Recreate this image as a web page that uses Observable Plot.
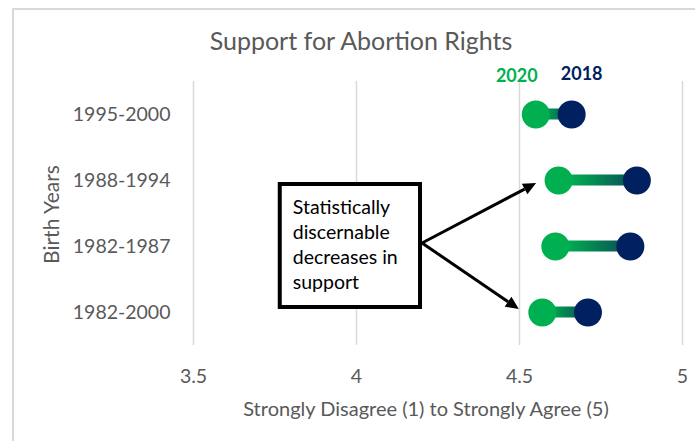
<!DOCTYPE html>
<html>
<head>
<meta charset="utf-8">
<script src="https://cdn.jsdelivr.net/npm/d3@7"></script>
<script src="https://cdn.jsdelivr.net/npm/@observablehq/plot@0.6"></script>
<style>
  body { margin: 0; background: #fff; }
  #chart { width: 695px; height: 441px; }
</style>
</head>
<body>
<div id="chart"></div>
<script>
// Mean support score by birth cohort, 2020 vs 2018 survey waves
const cohorts = ["1995-2000", "1988-1994", "1982-1987", "1982-2000"];
const support2020 = [4.55, 4.62, 4.61, 4.57];
const support2018 = [4.66, 4.86, 4.84, 4.71];
const xTicks = [3.5, 4, 4.5, 5];
const waveLabels = ["2020", "2018"];
const calloutLines = ["Statistically", "discernable", "decreases in", "support"];
const significantCohorts = ["1988-1994", "1982-2000"];

const GREEN = "#00B050";
const NAVY = "#002060";
const FONT = "Lato, Carlito, 'Open Sans', sans-serif";

const rows = cohorts.map((c, i) => ({cohort: c, v2020: support2020[i], v2018: support2018[i]}));
const legend = [
  {label: waveLabels[0], x: support2020[0], color: GREEN},
  {label: waveLabels[1], x: support2018[0], color: NAVY}
];

const plot = Plot.plot({
  width: 695,
  height: 441,
  marginLeft: 193,
  marginRight: 13,
  marginTop: 81,
  marginBottom: 96,
  style: {fontFamily: FONT, fontSize: "19.5px", color: "#595959", background: "#fff"},
  x: {domain: [3.5, 5], ticks: xTicks, tickFormat: d => String(d)},
  y: {domain: cohorts, padding: 0},
  marks: [
    Plot.ruleX(xTicks, {stroke: "#d9d9d9", strokeWidth: 1.5}),
    Plot.axisX({ticks: xTicks, tickSize: 0, tickPadding: 24, label: null, tickFormat: d => String(d), fontSize: 19.5}),
    Plot.axisY({tickSize: 0, tickPadding: 23, label: null, fontSize: 19.5}),
    // connector between the two waves
    Plot.barX(rows, {x1: "v2020", x2: "v2018", y: "cohort", fill: "url(#waveGradient)", insetTop: 27.5, insetBottom: 27.5}),
    Plot.dot(rows, {x: "v2020", y: "cohort", r: 14, fill: GREEN}),
    Plot.dot(rows, {x: "v2018", y: "cohort", r: 14, fill: NAVY}),
    // wave labels above the top row
    Plot.text([legend[0]], {x: "x", y: () => cohorts[0], text: "label", fill: "color", dx: -19, dy: -38, fontWeight: "bold", fontSize: 18}),
    Plot.text([legend[1]], {x: "x", y: () => cohorts[0], text: "label", fill: "color", dx: 10, dy: -40, fontWeight: "bold", fontSize: 18}),
    // title and axis titles
    Plot.text(["Support for Abortion Rights"], {text: d => d, frameAnchor: "top", lineAnchor: "middle", dx: -77, dy: -40, fontSize: 25, fill: "#595959"}),
    Plot.text(["Strongly Disagree (1) to Strongly Agree (5)"], {text: d => d, frameAnchor: "bottom", lineAnchor: "middle", dx: -12, dy: 64, fontSize: 20, fill: "#595959"}),
    Plot.text(["Birth Years"], {text: d => d, frameAnchor: "left", textAnchor: "middle", lineAnchor: "middle", dx: -141, dy: 1, rotate: -90, fontSize: 21, fill: "#595959"})
  ]
});

const svg = d3.select(plot);

// gradient for the connector bars
const grad = svg.insert("defs", ":first-child")
  .append("linearGradient").attr("id", "waveGradient")
  .attr("x1", "0").attr("x2", "1").attr("y1", "0").attr("y2", "0");
grad.append("stop").attr("offset", "0").attr("stop-color", GREEN);
grad.append("stop").attr("offset", "0.15").attr("stop-color", GREEN);
grad.append("stop").attr("offset", "1").attr("stop-color", "#0b4a56");

// chart border
svg.insert("rect", "defs + *")
  .attr("x", 13).attr("y", 9).attr("width", 700).attr("height", 450)
  .attr("fill", "none").attr("stroke", "#d9d9d9").attr("stroke-width", 2);

// callout box with arrows to the significant cohorts
const xs = plot.scale("x");
const ys = plot.scale("y");
const yc = c => ys.apply(c) + ys.bandwidth / 2;
const dotR = 14;

const box = {
  left: xs.apply(3.76),
  right: xs.apply(4.2025),
  top: yc(cohorts[1]) + 2,
  bottom: yc(cohorts[3]) - 3
};
const origin = [box.right, yc(cohorts[2]) - 3];
const tips = significantCohorts.map((c, k) => {
  const r = rows.find(d => d.cohort === c);
  return [xs.apply(r.v2020) - dotR - (k === 0 ? 8 : 9), yc(c) + (k === 0 ? 3 : -3)];
});

const g = svg.append("g");
tips.forEach(([tx, ty]) => {
  const [ox, oy] = origin;
  const ang = Math.atan2(ty - oy, tx - ox);
  const L = 13, W = 6;
  const bx = tx - L * Math.cos(ang), by = ty - L * Math.sin(ang);
  g.append("line").attr("x1", ox).attr("y1", oy).attr("x2", bx).attr("y2", by)
    .attr("stroke", "#000").attr("stroke-width", 3);
  const px = -Math.sin(ang) * W, py = Math.cos(ang) * W;
  g.append("path")
    .attr("d", `M${tx},${ty}L${bx + px},${by + py}L${bx - px},${by - py}Z`)
    .attr("fill", "#000");
});

g.append("rect")
  .attr("x", box.left + 2).attr("y", box.top + 2)
  .attr("width", box.right - box.left - 4).attr("height", box.bottom - box.top - 4)
  .attr("fill", "#fff").attr("stroke", "#000").attr("stroke-width", 4);

const t = g.append("text")
  .attr("font-family", FONT).attr("font-size", 19.5).attr("fill", "#000")
  .attr("text-anchor", "start");
calloutLines.forEach((line, i) => {
  t.append("tspan").attr("x", box.left + 15).attr("y", box.top + 25 + i * 25)
    .attr("dy", "0.35em").text(line);
});

document.getElementById("chart").appendChild(plot);
</script>
</body>
</html>
